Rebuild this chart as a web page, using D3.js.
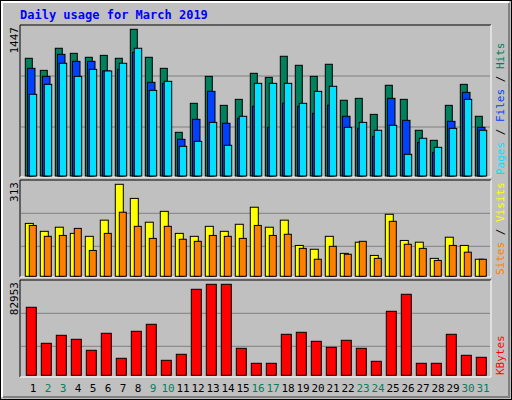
<!DOCTYPE html>
<html><head><meta charset="utf-8">
<script src="https://cdn.jsdelivr.net/npm/d3@7"></script>
<style>body{margin:0;background:#fff}svg{display:block}text{font-family:"DejaVu Sans Mono",monospace}</style>
</head><body>
<script>
// daily values
var days = d3.range(1, 32);
var weekend = [2, 3, 9, 10, 16, 17, 23, 24, 30, 31];
var hits = [1161,1042,1260,1210,1171,1190,1161,1447,1171,1062,431,717,983,697,756,1013,973,1181,1092,983,1102,747,766,608,895,756,451,352,697,904,589];
var files = [1062,983,1200,1131,1131,1036,1052,1220,924,914,362,559,835,520,569,687,480,717,687,618,697,589,470,391,766,549,332,233,539,825,480];
var pages = [806,904,1112,983,1052,1036,1112,1260,845,934,293,342,529,303,589,914,914,914,717,835,885,480,529,451,500,214,372,283,470,756,451];
var sites = [180,153,167,146,136,191,313,265,184,221,146,136,170,153,177,235,167,191,105,92,136,78,116,71,211,122,116,61,133,105,58];
var visits = [173,136,139,163,88,146,218,170,129,170,126,119,139,136,129,173,139,143,95,58,102,75,119,61,187,109,95,54,105,82,58];
var kbytes = [61996,29174,36468,32821,22792,38291,15499,40115,46497,13676,19146,78406,82953,82953,24616,10940,10940,37380,39203,30998,25528,31910,24616,12764,58349,73848,10940,10940,37380,18234,16411];

var svg = d3.select("body").append("svg").attr("width", 512).attr("height", 400);

// background + bevel
svg.append("rect").attr("x", 0.5).attr("y", 0.5).attr("width", 511).attr("height", 399)
  .attr("fill", "#c0c0c0").attr("stroke", "#000");
svg.append("path").attr("d", "M2,397V2H509").attr("fill", "none").attr("stroke", "#fff").attr("stroke-width", 2);
svg.append("path").attr("d", "M3,397H509V3").attr("fill", "none").attr("stroke", "#808080").attr("stroke-width", 2);

svg.append("text").attr("x", 20).attr("y", 19).attr("fill", "#0000ff")
  .attr("font-size", 12).attr("font-weight", "bold").text("Daily usage for March 2019");

var x = d3.scaleBand().domain(days).range([23, 488]);

var panels = [
  {top: 25, bottom: 177, y0: 176, y1: 29.3, max: 1447, grid: [127, 76],
   series: [{d: hits, c: "#00805c", o: 2.3, w: 7}, {d: files, c: "#0040ff", o: 4.5, w: 7.5}, {d: pages, c: "#00e0ff", o: 6.3, w: 7.4}],
   labels: [["Pages", "#00e0ff"], ["Files", "#0040ff"], ["Hits", "#00805c"]]},
  {top: 180, bottom: 277, y0: 276.3, y1: 184.3, max: 313, grid: [246.3, 213.3],
   series: [{d: sites, c: "#ffff00", o: 2.3, w: 8}, {d: visits, c: "#ff8000", o: 6.3, w: 7}],
   labels: [["Sites", "#ff8000"], ["Visits", "#ffff00"]]},
  {top: 280, bottom: 377, y0: 375.3, y1: 284.3, max: 82953, grid: [346.3, 313.3],
   series: [{d: kbytes, c: "#ff0000", o: 3.3, w: 10}],
   labels: [["KBytes", "#ff0000"]]}
];

panels.forEach(function(p) {
  var y = d3.scaleLinear().domain([0, p.max]).range([p.y0, p.y1]);
  var g = svg.append("g");
  g.append("path").attr("d", "M20," + p.bottom + "V" + p.top + "H491").attr("fill", "none").attr("stroke", "#000");
  g.append("path").attr("d", "M20," + p.bottom + "H491V" + p.top).attr("fill", "none").attr("stroke", "#fff");
  g.selectAll("line.grid").data(p.grid).enter().append("line")
    .attr("x1", 21).attr("x2", 490).attr("y1", function(d) { return d; }).attr("y2", function(d) { return d; })
    .attr("stroke", "#808080");
  p.series.forEach(function(s) {
    g.selectAll(null).data(s.d).enter().append("rect")
      .attr("x", function(d, i) { return x(days[i]) + s.o; })
      .attr("y", function(d) { return y(d); })
      .attr("width", s.w)
      .attr("height", function(d) { return p.y0 - y(d); })
      .attr("fill", s.c).attr("stroke", "#000");
  });
  // max label on the left
  g.append("text").attr("transform", "translate(18," + (p.top + 2) + ") rotate(-90)")
    .attr("text-anchor", "end").attr("font-size", 11).text(p.max);
  // series label on the right, reading upward
  var t = g.append("text").attr("transform", "translate(504," + (p.bottom - 2) + ") rotate(-90)")
    .attr("font-size", 11);
  p.labels.forEach(function(l, i) {
    if (i > 0) t.append("tspan").attr("fill", "#000").text(" / ");
    t.append("tspan").attr("fill", l[1]).text(l[0]);
  });
});

svg.selectAll("text.day").data(days).enter().append("text")
  .attr("x", function(d) { return x(d) + 10; }).attr("y", 392)
  .attr("text-anchor", "middle").attr("font-size", 11)
  .attr("fill", function(d) { return weekend.indexOf(d) >= 0 ? "#00805c" : "#000"; })
  .text(function(d) { return d; });
</script>
</body></html>
